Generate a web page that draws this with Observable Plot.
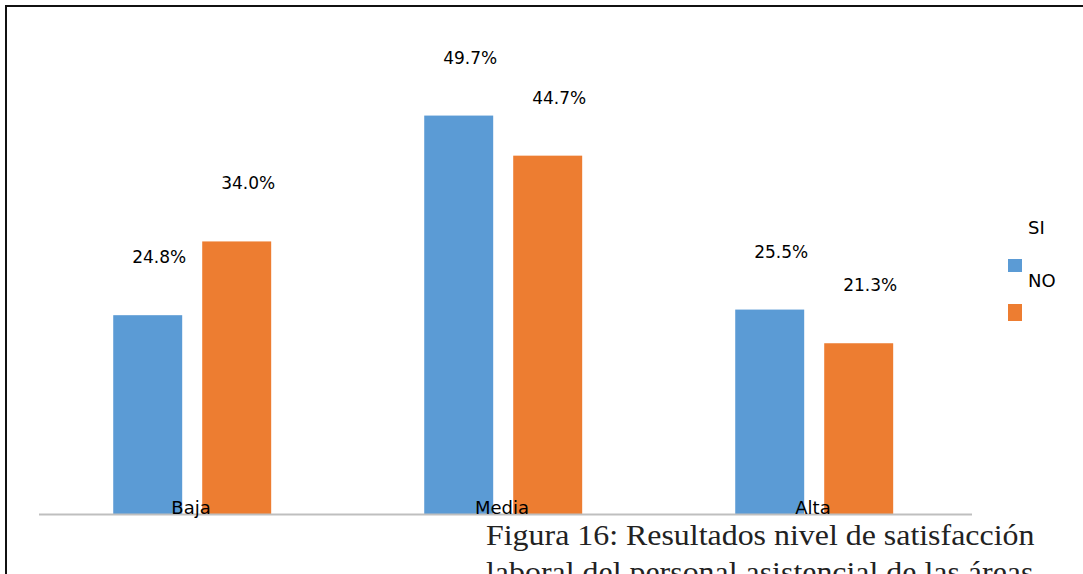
<!DOCTYPE html>
<html>
<head>
<meta charset="utf-8">
<script src="https://cdn.jsdelivr.net/npm/d3@7"></script>
<script src="https://cdn.jsdelivr.net/npm/@observablehq/plot@0.6"></script>
<style>
  html, body { margin: 0; padding: 0; background: #fff; overflow: hidden; }
  #page { position: relative; width: 1083px; height: 574px; overflow: hidden; }
  #border { position: absolute; left: 5px; top: 5px; width: 1200px; height: 700px;
            border-top: 2px solid #111; border-left: 2px solid #111; }
  #chart { position: absolute; left: 0; top: 0; }
  .legend-sw { position: absolute; width: 14px; }
  .legend-tx { position: absolute; font: 18px 'DejaVu Sans', sans-serif; line-height: 18px; color: #000; }
  #caption { position: absolute; left: 486px; top: 517px; font: 29px 'Liberation Serif', 'Times New Roman', serif;
             line-height: 37px; color: #222; white-space: nowrap; transform: scaleX(1.1); transform-origin: 0 0; }
</style>
</head>
<body>
<div id="page">
  <div id="border"></div>
  <div id="chart"></div>
  <div id="legend"></div>
  <div id="caption">Figura 16: Resultados nivel de satisfacción<br>laboral del personal asistencial de las áreas</div>
</div>
<script>
const categories = ["Baja", "Media", "Alta"];
const series = ["SI", "NO"];
const siValues = [24.8, 49.7, 25.5];
const noValues = [34.0, 44.7, 21.3];
const colors = ["#5b9bd5", "#ed7d31"];

const data = categories.flatMap((c, i) => [
  {cat: c, serie: series[0], value: siValues[i]},
  {cat: c, serie: series[1], value: noValues[i]}
]);

const chart = Plot.plot({
  width: 1083,
  height: 530,
  marginLeft: 38,
  marginRight: 111,
  marginTop: 33,
  marginBottom: 16,
  style: {fontFamily: "'DejaVu Sans', sans-serif", fontSize: "18px", background: "transparent"},
  fx: {domain: categories, padding: 0, axis: null},
  x: {domain: series, axis: null, paddingInner: 0.225, paddingOuter: 0.86, align: 0.485, round: false},
  y: {domain: [0, 60], axis: null},
  color: {domain: series, range: colors},
  marks: [
    Plot.barY(data, {fx: "cat", x: "serie", y: "value", fill: "serie"}),
    Plot.ruleY([0], {stroke: "#bfbfbf", strokeWidth: 2}),
    Plot.text(data, {fx: "cat", x: "serie", y: "value", text: d => d.value.toFixed(1) + "%",
      dy: -58, dx: 11, fontSize: 17, fill: "#000"}),
    Plot.text(categories, {fx: d => d, text: d => d, frameAnchor: "bottom", lineAnchor: "bottom",
      dy: -1, dx: -4, fontSize: 18, fill: "#000"})
  ]
});
document.getElementById("chart").appendChild(chart);

// legend (offset swatches/labels as in the original)
const legend = document.getElementById("legend");
const swTops = [259, 304], swHeights = [13, 17], txTops = [219, 272];
series.forEach((s, i) => {
  const sw = document.createElement("div");
  sw.className = "legend-sw";
  sw.style.left = "1008px";
  sw.style.top = swTops[i] + "px";
  sw.style.height = swHeights[i] + "px";
  sw.style.background = colors[i];
  legend.appendChild(sw);
  const tx = document.createElement("div");
  tx.className = "legend-tx";
  tx.style.left = "1028px";
  tx.style.top = txTops[i] + "px";
  tx.textContent = s;
  legend.appendChild(tx);
});
</script>
</body>
</html>
